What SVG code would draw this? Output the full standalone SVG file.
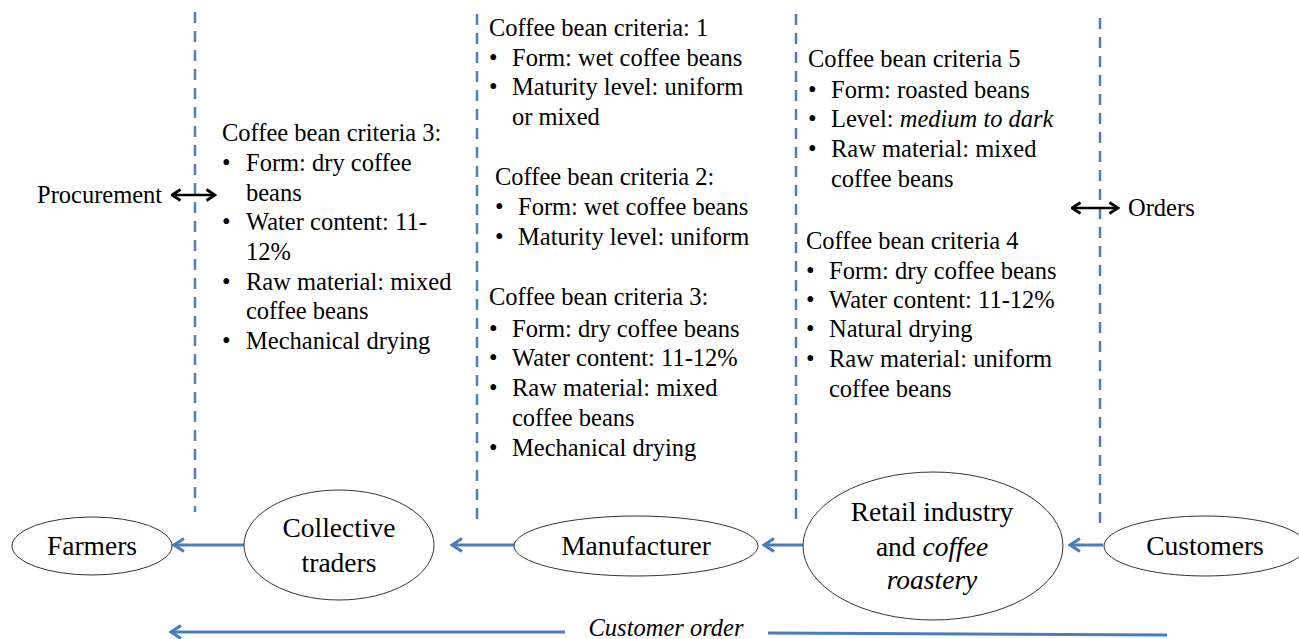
<svg xmlns="http://www.w3.org/2000/svg" width="1299" height="639" viewBox="0 0 1299 639">
<defs>
<marker id="blueHead" markerWidth="14" markerHeight="16" refX="12" refY="8" orient="auto" markerUnits="userSpaceOnUse" viewBox="0 0 14 16">
<path d="M2,1.5 L12,8 L2,14.5" fill="none" stroke="#4a7ebb" stroke-width="3.2" stroke-linejoin="miter"/>
</marker>
<marker id="blkHead" markerWidth="12" markerHeight="14" refX="10.5" refY="7" orient="auto-start-reverse" markerUnits="userSpaceOnUse" viewBox="0 0 12 14">
<path d="M2,1.5 L10.5,7 L2,12.5" fill="none" stroke="#000" stroke-width="2.8"/>
</marker>
</defs>
<style>
text{font-family:"Liberation Serif","Times New Roman",serif;fill:#000;}
.t{font-size:24.5px;}
.n{font-size:27.5px;}
.node{fill:#fff;stroke:#333;stroke-width:1;}
.dash{stroke:#4a7ebb;stroke-width:2.5;stroke-dasharray:11,8;fill:none;}
.flow{stroke:#4a7ebb;stroke-width:3;fill:none;marker-end:url(#blueHead);}
.dbl{stroke:#000;stroke-width:2.5;fill:none;marker-start:url(#blkHead);marker-end:url(#blkHead);}
</style>
<rect width="1299" height="639" fill="#fff"/>
<g id="dividers">
<line class="dash" x1="195" y1="12" x2="195" y2="512"/>
<line class="dash" x1="477" y1="14" x2="477" y2="520"/>
<line class="dash" x1="796" y1="14" x2="796" y2="520"/>
<line class="dash" x1="1100" y1="18" x2="1100" y2="526"/>
</g>
<g id="connectors">
<line class="flow" x1="244" y1="545" x2="174" y2="545"/>
<line class="flow" x1="514" y1="545" x2="452" y2="545"/>
<line class="flow" x1="803" y1="545" x2="764" y2="545"/>
<line class="flow" x1="1103" y1="545" x2="1070" y2="545"/>
<line class="flow" x1="565" y1="632" x2="171" y2="632"/>
<line x1="768" y1="633" x2="1167" y2="635" stroke="#4a7ebb" stroke-width="3"/>
<line class="dbl" x1="172" y1="195" x2="215" y2="195"/>
<line class="dbl" x1="1072" y1="208" x2="1118" y2="208"/>
</g>
<g id="farmers">
<ellipse class="node" cx="92" cy="546" rx="80" ry="29"/>
<text class="n" x="92" y="555" text-anchor="middle">Farmers</text>
</g>
<g id="collective-traders">
<ellipse class="node" cx="339" cy="545" rx="95" ry="55"/>
<text class="n" x="339" y="537" text-anchor="middle">Collective</text>
<text class="n" x="339" y="572" text-anchor="middle">traders</text>
</g>
<g id="manufacturer">
<ellipse class="node" cx="636" cy="546" rx="122" ry="30"/>
<text class="n" x="636" y="555" text-anchor="middle">Manufacturer</text>
</g>
<g id="retail">
<ellipse class="node" cx="933" cy="546" rx="130" ry="74"/>
<text class="n" x="932" y="521" text-anchor="middle">Retail industry</text>
<text class="n" x="932" y="556" text-anchor="middle">and <tspan font-style="italic">coffee</tspan></text>
<text class="n" x="932" y="589" text-anchor="middle" font-style="italic">roastery</text>
</g>
<g id="customers">
<ellipse class="node" cx="1205" cy="546" rx="101" ry="30"/>
<text class="n" x="1205" y="555" text-anchor="middle">Customers</text>
</g>
<g id="labels">
<text class="t" x="37" y="203">Procurement</text>
<text class="t" x="1128" y="216">Orders</text>
<text class="t" x="666" y="636" text-anchor="middle" font-style="italic">Customer order</text>
</g>
<g id="criteria-traders">
<text class="t" x="222" y="141">Coffee bean criteria 3:</text>
<text class="t" x="222" y="171">•</text><text class="t" x="246" y="171">Form: dry coffee</text>
<text class="t" x="246" y="201">beans</text>
<text class="t" x="222" y="230">•</text><text class="t" x="246" y="230">Water content: 11-</text>
<text class="t" x="246" y="260">12%</text>
<text class="t" x="222" y="290">•</text><text class="t" x="246" y="290">Raw material: mixed</text>
<text class="t" x="246" y="319">coffee beans</text>
<text class="t" x="222" y="349">•</text><text class="t" x="246" y="349">Mechanical drying</text>
</g>
<g id="criteria-manufacturer">
<text class="t" x="489" y="36">Coffee bean criteria: 1</text>
<text class="t" x="489" y="66">•</text><text class="t" x="512" y="66">Form: wet coffee beans</text>
<text class="t" x="489" y="95">•</text><text class="t" x="512" y="95">Maturity level: uniform</text>
<text class="t" x="512" y="125">or mixed</text>
<text class="t" x="495" y="185">Coffee bean criteria 2:</text>
<text class="t" x="495" y="215">•</text><text class="t" x="518" y="215">Form: wet coffee beans</text>
<text class="t" x="495" y="245">•</text><text class="t" x="518" y="245">Maturity level: uniform</text>
<text class="t" x="489" y="305">Coffee bean criteria 3:</text>
<text class="t" x="489" y="337">•</text><text class="t" x="512" y="337">Form: dry coffee beans</text>
<text class="t" x="489" y="366">•</text><text class="t" x="512" y="366">Water content: 11-12%</text>
<text class="t" x="489" y="396">•</text><text class="t" x="512" y="396">Raw material: mixed</text>
<text class="t" x="512" y="426">coffee beans</text>
<text class="t" x="489" y="456">•</text><text class="t" x="512" y="456">Mechanical drying</text>
</g>
<g id="criteria-retail">
<text class="t" x="808" y="67">Coffee bean criteria 5</text>
<text class="t" x="808" y="98">•</text><text class="t" x="831" y="98">Form: roasted beans</text>
<text class="t" x="808" y="127">•</text><text class="t" x="831" y="127">Level: <tspan font-style="italic">medium to dark</tspan></text>
<text class="t" x="808" y="157">•</text><text class="t" x="831" y="157">Raw material: mixed</text>
<text class="t" x="831" y="187">coffee beans</text>
<text class="t" x="806" y="249">Coffee bean criteria 4</text>
<text class="t" x="806" y="279">•</text><text class="t" x="829" y="279">Form: dry coffee beans</text>
<text class="t" x="806" y="308">•</text><text class="t" x="829" y="308">Water content: 11-12%</text>
<text class="t" x="806" y="337">•</text><text class="t" x="829" y="337">Natural drying</text>
<text class="t" x="806" y="367">•</text><text class="t" x="829" y="367">Raw material: uniform</text>
<text class="t" x="829" y="397">coffee beans</text>
</g>
</svg>
